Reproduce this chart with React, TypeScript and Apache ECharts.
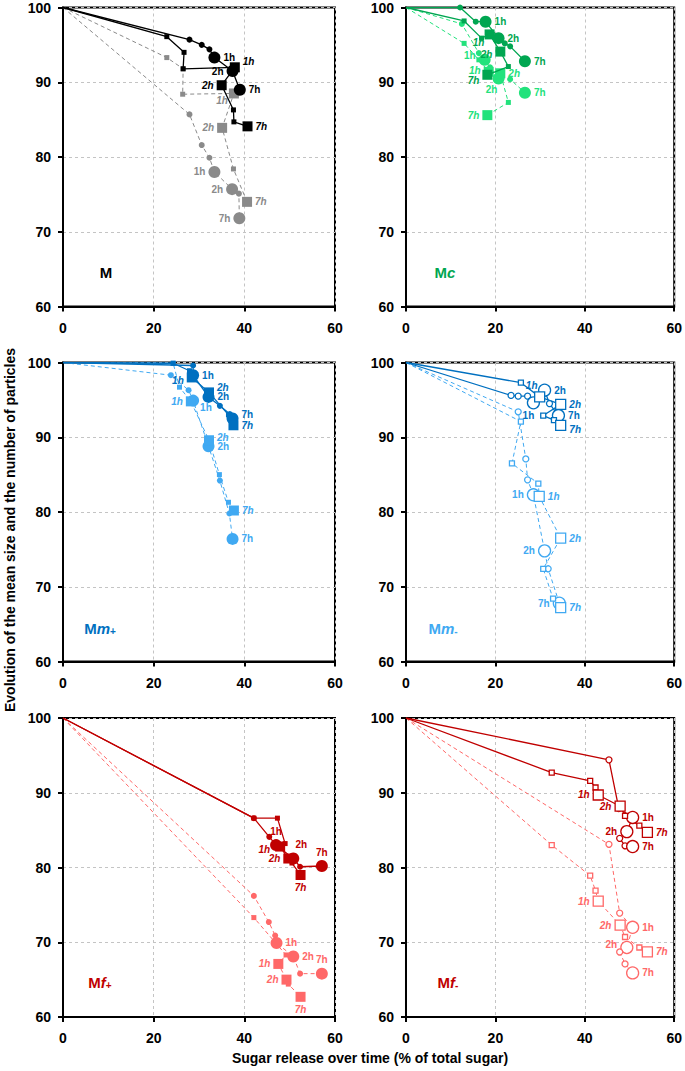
import React, { useEffect, useRef } from "react";
import * as echarts from "echarts";

// ---------- tick labels ----------
const xTicks = [0, 20, 40, 60];
const yTicks = [60, 70, 80, 90, 100];

// ---------- Panel M ----------
const mBlackCircle = [[0, 100], [27.9, 95.7], [30.6, 95.0], [32.3, 94.4], [33.4, 93.3], [37.4, 91.5], [39.0, 89.0]];
const mBlackCircleT = ["", "", "", "", "1h", "2h", "7h"];
const mBlackSquare = [[0, 100], [22.9, 96.1], [26.7, 94.0], [26.5, 91.8], [37.9, 92.0], [35.0, 89.6], [37.6, 86.3], [37.7, 84.7], [40.7, 84.1]];
const mBlackSquareT = ["", "", "", "", "1h", "2h", "", "", "7h"];
const mGraySquare = [[0, 100], [22.9, 93.3], [26.5, 91.8], [26.4, 88.4], [37.7, 88.5], [35.1, 83.9], [37.6, 78.4], [40.6, 74.0]];
const mGraySquareT = ["", "", "", "", "1h", "2h", "", "7h"];
const mGrayCircle = [[0, 100], [27.9, 85.7], [30.6, 81.6], [32.3, 79.9], [33.4, 78.0], [37.3, 75.7], [38.8, 75.1], [38.9, 71.8]];
const mGrayCircleT = ["", "", "", "", "1h", "2h", "", "7h"];

// ---------- Panel Mc ----------
const mcDarkCircle = [[0, 100], [12.1, 100], [15.6, 98.1], [17.8, 98.1], [20.7, 95.9], [22.1, 95.2], [23.3, 94.8], [26.6, 92.8]];
const mcDarkCircleT = ["", "", "", "1h", "2h", "", "", "7h"];
const mcDarkSquare = [[0, 100], [13.0, 98.2], [16.9, 95.9], [18.7, 96.4], [21.1, 94.1], [22.9, 92.1], [18.2, 91.0]];
const mcDarkSquareT = ["", "", "", "1h", "2h", "", "7h"];
const mcLightCircle = [[0, 100], [12.5, 97.8], [16.3, 93.9], [17.6, 93.0], [18.8, 92.0], [20.7, 90.5], [23.3, 90.4], [26.6, 88.6]];
const mcLightCircleT = ["", "", "", "1h", "", "2h", "", "7h"];
const mcLightSquare = [[0, 100], [13.0, 95.2], [16.3, 93.0], [18.5, 91.4], [21.1, 91.2], [22.9, 87.3], [18.2, 85.6]];
const mcLightSquareT = ["", "", "", "1h", "2h", "", "7h"];

// ---------- Panel Mm+ ----------
const mpDarkCircle = [[0, 100], [28.7, 99.6], [28.7, 98.3], [32.1, 95.4], [34.6, 94.2], [36.8, 93.1], [37.4, 92.5]];
const mpDarkCircleT = ["", "", "1h", "2h", "", "", "7h"];
const mpDarkSquare = [[0, 100], [24.3, 99.9], [27.9, 98.9], [28.4, 98.0], [32.2, 96.0], [36.5, 93.0], [37.6, 91.6]];
const mpDarkSquareT = ["", "", "", "1h", "2h", "", "7h"];
const mpLightCircle = [[0, 100], [23.8, 98.3], [27.7, 96.3], [28.7, 94.9], [32.1, 88.8], [34.6, 84.2], [36.7, 79.8], [37.4, 76.4]];
const mpLightCircleT = ["", "", "", "1h", "2h", "", "", "7h"];
const mpLightSquare = [[0, 100], [24.3, 99.9], [25.7, 96.7], [28.2, 94.8], [32.2, 89.6], [34.5, 85.0], [36.5, 81.3], [37.7, 80.2]];
const mpLightSquareT = ["", "", "", "1h", "2h", "", "", "7h"];

// ---------- Panel Mm- ----------
const mmDarkCircle = [[0, 100], [23.5, 95.6], [25.1, 95.5], [27.2, 95.5], [28.5, 94.6], [31.0, 96.3], [32.1, 94.5], [34.1, 92.9]];
const mmDarkCircleT = ["", "", "", "", "1h", "2h", "", "7h"];
const mmDarkSquare = [[0, 100], [25.7, 97.3], [29.9, 95.4], [34.6, 94.4], [30.7, 92.9], [33.1, 92.3], [34.6, 91.6]];
const mmDarkSquareT = ["", "", "1h", "2h", "", "", "7h"];
const mmLightCircle = [[0, 100], [25.1, 93.4], [26.8, 87.1], [27.2, 84.3], [28.5, 82.3], [31.0, 74.8], [31.8, 72.4], [34.3, 67.8]];
const mmLightCircleT = ["", "", "", "", "1h", "2h", "", "7h"];
const mmLightSquare = [[0, 100], [25.7, 92.1], [23.7, 86.5], [29.6, 83.8], [29.8, 82.1], [34.6, 76.5], [30.7, 72.4], [32.9, 68.4], [34.6, 67.2]];
const mmLightSquareT = ["", "", "", "", "1h", "2h", "", "", "7h"];

// ---------- Panel Mf+ ----------
const fpDarkCircle = [[0, 100], [42.1, 86.6], [45.5, 84.1], [47.0, 83.0], [50.8, 81.2], [52.3, 80.1], [57.1, 80.2]];
const fpDarkCircleT = ["", "", "", "1h", "2h", "", "7h"];
const fpDarkSquare = [[0, 100], [42.1, 86.6], [47.3, 86.6], [49.0, 83.2], [47.9, 82.8], [49.7, 81.2], [50.5, 80.6], [52.4, 79.0]];
const fpDarkSquareT = ["", "", "", "", "1h", "2h", "", "7h"];
const fpLightCircle = [[0, 100], [42.1, 76.2], [45.4, 72.7], [46.8, 70.9], [47.1, 69.9], [50.8, 68.1], [52.3, 65.8], [57.1, 65.8]];
const fpLightCircleT = ["", "", "", "", "1h", "2h", "", "7h"];
const fpLightSquare = [[0, 100], [42.1, 73.3], [49.2, 68.3], [47.5, 67.1], [49.3, 65.0], [49.7, 64.4], [52.4, 62.7]];
const fpLightSquareT = ["", "", "", "1h", "2h", "", "7h"];

// ---------- Panel Mf- ----------
const fmDarkCircle = [[0, 100], [45.4, 94.4], [47.6, 87.9], [50.7, 86.7], [49.4, 84.8], [47.8, 83.9], [49.0, 82.9], [50.7, 82.8]];
const fmDarkCircleT = ["", "", "", "1h", "2h", "", "", "7h"];
const fmDarkSquare = [[0, 100], [32.6, 92.7], [41.2, 91.6], [42.4, 90.7], [43.0, 89.7], [47.9, 88.2], [49.0, 86.9], [52.2, 85.6], [54.0, 84.7]];
const fmDarkSquareT = ["", "", "", "", "1h", "2h", "", "", "7h"];
const fmLightCircle = [[0, 100], [45.4, 83.1], [47.8, 73.9], [50.7, 72.0], [49.4, 69.3], [47.8, 68.7], [49.0, 67.1], [50.7, 65.9]];
const fmLightCircleT = ["", "", "", "1h", "2h", "", "", "7h"];
const fmLightSquare = [[0, 100], [32.6, 83.0], [41.2, 78.9], [42.4, 76.9], [43.0, 75.5], [47.9, 72.3], [49.0, 70.7], [52.2, 69.3], [54.0, 68.7]];
const fmLightSquareT = ["", "", "", "", "1h", "2h", "", "", "7h"];

// ---------- styles ----------
const FONT = "'Liberation Sans', Arial, sans-serif";
const C = {
  black: "#000000", gray: "#8a8a8a",
  dg: "#00A651", lg: "#22E27C",
  db: "#0070C0", lb: "#40A9F2",
  dr: "#C00000", lr: "#FF6868",
};

type LP = [string, number, number];
interface SDef {
  grid: number; data: number[][]; times: string[]; color: string;
  dashed: boolean; shape: "circle" | "rect"; hollow: boolean; lp: LP[];
}

const R: LP = ["right", 0, 0];
const L: LP = ["left", 0, 0];
const T: LP = ["top", 0, 0];
const B: LP = ["bottom", 0, 0];

const defs: SDef[] = [
  // M
  { grid: 0, data: mGrayCircle, times: mGrayCircleT, color: C.gray, dashed: true, shape: "circle", hollow: false, lp: [L, L, L] },
  { grid: 0, data: mGraySquare, times: mGraySquareT, color: C.gray, dashed: true, shape: "rect", hollow: false, lp: [["left", 2, 7], L, R] },
  { grid: 0, data: mBlackCircle, times: mBlackCircleT, color: C.black, dashed: false, shape: "circle", hollow: false, lp: [R, L, R] },
  { grid: 0, data: mBlackSquare, times: mBlackSquareT, color: C.black, dashed: false, shape: "rect", hollow: false, lp: [["right", 0, -6], L, R] },
  // Mc
  { grid: 1, data: mcLightCircle, times: mcLightCircleT, color: C.lg, dashed: true, shape: "circle", hollow: false, lp: [["left", 0, -4], ["bottom", -7, -3], R] },
  { grid: 1, data: mcLightSquare, times: mcLightSquareT, color: C.lg, dashed: true, shape: "rect", hollow: false, lp: [["left", 0, -1], R, L] },
  { grid: 1, data: mcDarkCircle, times: mcDarkCircleT, color: C.dg, dashed: false, shape: "circle", hollow: false, lp: [R, R, R] },
  { grid: 1, data: mcDarkSquare, times: mcDarkSquareT, color: C.dg, dashed: false, shape: "rect", hollow: false, lp: [["bottom", -11, -5], ["left", 0, 3], ["left", 0, 6]] },
  // Mm+
  { grid: 2, data: mpLightCircle, times: mpLightCircleT, color: C.lb, dashed: true, shape: "circle", hollow: false, lp: [["right", -2, 7], R, R] },
  { grid: 2, data: mpLightSquare, times: mpLightSquareT, color: C.lb, dashed: true, shape: "rect", hollow: false, lp: [L, ["right", 0, -3], R] },
  { grid: 2, data: mpDarkCircle, times: mpDarkCircleT, color: C.db, dashed: false, shape: "circle", hollow: false, lp: [R, R, ["right", 0, -4]] },
  { grid: 2, data: mpDarkSquare, times: mpDarkSquareT, color: C.db, dashed: false, shape: "rect", hollow: false, lp: [["left", 0, 3], ["right", 0, -5], R] },
  // Mm-
  { grid: 3, data: mmLightCircle, times: mmLightCircleT, color: C.lb, dashed: true, shape: "circle", hollow: true, lp: [L, L, L] },
  { grid: 3, data: mmLightSquare, times: mmLightSquareT, color: C.lb, dashed: true, shape: "rect", hollow: true, lp: [R, R, R] },
  { grid: 3, data: mmDarkCircle, times: mmDarkCircleT, color: C.db, dashed: false, shape: "circle", hollow: true, lp: [["bottom", -5, -2], R, R] },
  { grid: 3, data: mmDarkSquare, times: mmDarkSquareT, color: C.db, dashed: false, shape: "rect", hollow: true, lp: [["top", -8, 2], R, ["right", 0, 4]] },
  // Mf+
  { grid: 4, data: fpLightCircle, times: fpLightCircleT, color: C.lr, dashed: true, shape: "circle", hollow: false, lp: [R, R, T] },
  { grid: 4, data: fpLightSquare, times: fpLightSquareT, color: C.lr, dashed: true, shape: "rect", hollow: false, lp: [L, L, B] },
  { grid: 4, data: fpDarkCircle, times: fpDarkCircleT, color: C.dr, dashed: false, shape: "circle", hollow: false, lp: [T, ["top", 8, 0], T] },
  { grid: 4, data: fpDarkSquare, times: fpDarkSquareT, color: C.dr, dashed: false, shape: "rect", hollow: false, lp: [["left", -2, 3], L, B] },
  // Mf-
  { grid: 5, data: fmLightCircle, times: fmLightCircleT, color: C.lr, dashed: true, shape: "circle", hollow: true, lp: [R, ["left", 0, -3], R] },
  { grid: 5, data: fmLightSquare, times: fmLightSquareT, color: C.lr, dashed: true, shape: "rect", hollow: true, lp: [L, L, R] },
  { grid: 5, data: fmDarkCircle, times: fmDarkCircleT, color: C.dr, dashed: false, shape: "circle", hollow: true, lp: [R, L, R] },
  { grid: 5, data: fmDarkSquare, times: fmDarkSquareT, color: C.dr, dashed: false, shape: "rect", hollow: true, lp: [L, L, R] },
];

const grids = [
  { left: 63, top: 7.5, width: 272, height: 299 },
  { left: 406, top: 7.5, width: 272, height: 299 },
  { left: 63, top: 362.5, width: 272, height: 299 },
  { left: 406, top: 362.5, width: 272, height: 299 },
  { left: 63, top: 718, width: 272, height: 299 },
  { left: 406, top: 718, width: 272, height: 299 },
];

function buildSeries(s: SDef) {
  let li = 0;
  const data = s.data.map((p, i) => {
    const t = s.times[i];
    const big = t !== "";
    const item: any = {
      value: p,
      symbolSize: big ? (s.shape === "circle" ? 12 : 10) : (s.shape === "circle" ? 6 : 5),
    };
    if (i === 0) item.symbol = "none";
    if (big) {
      const lp = s.lp[li++] || R;
      if (lp[0] !== "none") {
        item.label = { show: true, formatter: t, position: lp[0], offset: [lp[1], lp[2]] };
      }
    }
    return item;
  });
  return {
    type: "line",
    xAxisIndex: s.grid,
    yAxisIndex: s.grid,
    data,
    symbol: s.shape,
    showSymbol: true,
    showAllSymbol: true,
    silent: true,
    lineStyle: { color: s.color, width: s.dashed ? 1 : 1.3, type: s.dashed ? [4, 3] : "solid" },
    itemStyle: s.hollow
      ? { color: "#ffffff", borderColor: s.color, borderWidth: 1.3 }
      : { color: s.color, borderWidth: 0 },
    label: {
      show: false,
      color: s.color,
      fontFamily: FONT,
      fontWeight: "bold",
      fontSize: 10,
      fontStyle: s.shape === "rect" ? "italic" : "normal",
      distance: 3,
    },
    emphasis: { disabled: true },
    z: s.dashed ? 2 : 3,
  };
}

const panelLabels = [
  { x: 106, y: 272, color: C.black, main: "M", it: "", sub: "" },
  { x: 445, y: 272, color: C.dg, main: "M", it: "c", sub: "" },
  { x: 100, y: 628, color: C.db, main: "M", it: "m", sub: "+" },
  { x: 443, y: 628, color: C.lb, main: "M", it: "m", sub: "-" },
  { x: 100, y: 982, color: C.dr, main: "M", it: "f", sub: "+" },
  { x: 448, y: 982, color: C.dr, main: "M", it: "f", sub: "-" },
];

export default function App() {
  const ref = useRef<HTMLDivElement>(null);
  useEffect(() => {
    if (!ref.current) return;
    const chart = echarts.init(ref.current, null, { renderer: "svg" });
    const axisBase = {
      axisLine: { show: true, onZero: false, lineStyle: { color: "#000", width: 2 } },
      axisTick: { show: true, inside: false, length: 5, lineStyle: { color: "#000", width: 2 } },
      axisLabel: { color: "#000", fontFamily: FONT, fontWeight: "bold", fontSize: 14 },
      splitLine: { show: true, lineStyle: { color: "#c4c4c4", width: 1, type: [3, 3] } },
    };
    const option: any = {
      animation: false,
      backgroundColor: "#ffffff",
      grid: grids.map((g) => ({ ...g, show: true, borderColor: "#000", borderWidth: 2, backgroundColor: "transparent", containLabel: false })),
      xAxis: grids.map((_, i) => ({
        type: "value", gridIndex: i, min: xTicks[0], max: xTicks[xTicks.length - 1], interval: 20,
        ...axisBase, axisLabel: { ...axisBase.axisLabel, margin: 14 },
      })),
      yAxis: grids.map((_, i) => ({
        type: "value", gridIndex: i, min: yTicks[0], max: yTicks[yTicks.length - 1], interval: 10,
        ...axisBase, axisLabel: { ...axisBase.axisLabel, margin: 12 },
      })),
      series: defs.map(buildSeries),
      graphic: [
        ...panelLabels.map((p) => ({
          type: "text", x: p.x, y: p.y,
          style: {
            text: `{a|${p.main}}` + (p.it ? `{b|${p.it}}` : "") + (p.sub ? `{c|${p.sub}}` : ""),
            align: "center", verticalAlign: "middle",
            rich: {
              a: { fill: p.color, fontFamily: FONT, fontWeight: "bold", fontSize: 15 },
              b: { fill: p.color, fontFamily: FONT, fontWeight: "bold", fontStyle: "italic", fontSize: 15 },
              c: { fill: p.color, fontFamily: FONT, fontWeight: "bold", fontSize: 10, padding: [6, 0, 0, 0] },
            },
          },
        })),
        {
          type: "text", x: 10, y: 530, rotation: Math.PI / 2,
          style: {
            text: "Evolution of the mean size and the number of particles",
            fill: "#000", font: `bold 14px ${FONT}`, align: "center", verticalAlign: "middle",
          },
        },
        {
          type: "text", x: 370, y: 1058,
          style: {
            text: "Sugar release over time (% of total sugar)",
            fill: "#000", font: `bold 14px ${FONT}`, align: "center", verticalAlign: "middle",
          },
        },
      ],
    };
    chart.setOption(option);
    return () => chart.dispose();
  }, []);
  return (
    <div
      ref={ref}
      style={{ position: "absolute", left: 0, top: 0, width: 685, height: 1071, background: "#fff" }}
    />
  );
}
